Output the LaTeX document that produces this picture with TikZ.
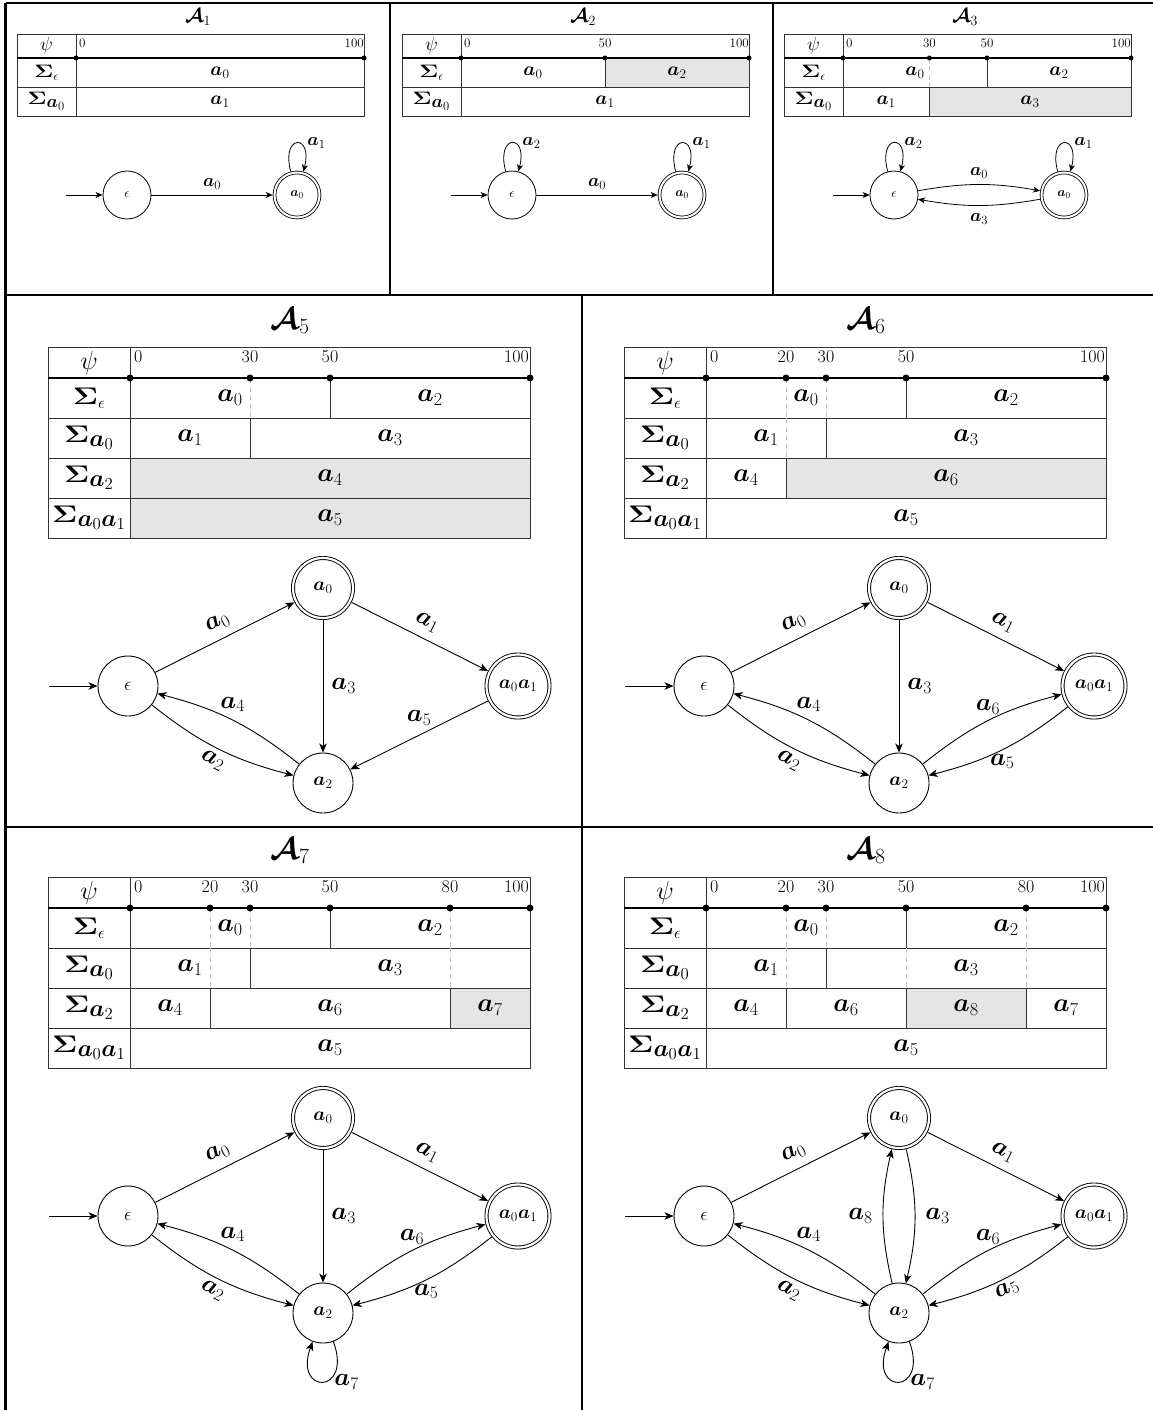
\RequirePackage{fix-cm}
\documentclass[tikz,border=0pt]{standalone}
\usepackage{amsmath,bm}
\usetikzlibrary{arrows.meta}
\newcommand\wSig{\scalebox{1.3}[1]{$\bm\Sigma$}}
\tikzset{
 frm/.style={line width=2.8pt},
 tln/.style={draw=black!80, line width=0.9pt},
 axl/.style={draw=black, line width=1.1pt},
 dsh/.style={draw=black!22, line width=0.9pt, dash pattern=on 5pt off 3.5pt},
 shd/.style={fill=black!10},
 tdot/.style={circle, fill=black, inner sep=0pt, minimum size=5pt},
 mdot/.style={circle, fill=black, inner sep=0pt, minimum size=7pt},
 ttitle/.style={font=\fontsize{20}{24}\selectfont},
 mtitle/.style={font=\fontsize{31}{36}\selectfont},
 ttxt/.style={font=\fontsize{19}{22}\selectfont, inner sep=1pt},
 mtxt/.style={font=\fontsize{26}{30}\selectfont, inner sep=1pt},
 tsig/.style={font=\fontsize{18}{21}\selectfont, inner sep=0pt},
 msig/.style={font=\fontsize{24}{28}\selectfont, inner sep=0pt},
 tpsi/.style={font=\fontsize{19}{22}\selectfont, inner sep=0pt},
 mpsi/.style={font=\fontsize{26}{30}\selectfont, inner sep=0pt},
 ttick/.style={font=\fontsize{13}{15}\selectfont, inner sep=0pt},
 mtick/.style={font=\fontsize{18}{21}\selectfont, inner sep=0pt},
 tst/.style={circle, draw, line width=0.8pt, inner sep=0pt, minimum size=48pt, font=\fontsize{13}{15}\selectfont},
 tacc/.style={tst, minimum size=45pt, double, double distance=2pt, outer sep=1.8pt},
 mst/.style={circle, draw, line width=0.9pt, inner sep=0pt, minimum size=60pt, font=\fontsize{19}{22}\selectfont},
 macc/.style={mst, double, double distance=2.2pt, outer sep=2pt},
 tedge/.style={draw, line width=0.8pt, -{Stealth[length=7pt,width=6pt,inset=2pt]}},
 medge/.style={draw, line width=0.9pt, -{Stealth[length=9pt,width=7.5pt,inset=2.5pt]}},
 tlab/.style={font=\fontsize{18}{21}\selectfont, inner sep=2pt},
 elab/.style={font=\fontsize{25}{29}\selectfont, inner sep=2pt},
}
% ---------- top-row helpers ----------
\newcommand\topframe[1]{%
 \draw[tln] (17,-34) rectangle (364,-116);
 \draw[tln] (76,-34) -- (76,-116);
 \draw[tln] (17,-87) -- (364,-87);
 \draw[axl] (17,-58) -- (364,-58);
 \node[tpsi] (#1psi) at (46.5,-46) {$\psi$};
 \node[tsig] (#1se) at (46.5,-72.5) {$\wSig_\epsilon$};
 \node[tsig] (#1sa) at (46.5,-101.5) {$\wSig_{\textstyle\bm a_0}$};
 \node[tdot] (#1d0) at (76,-58) {};
 \node[tdot] (#1d9) at (364,-58) {};
 \node[ttick, anchor=base west] (#1k0) at (79,-48) {0};
 \node[ttick, anchor=base east] (#1k9) at (364,-48) {100};
}
\newcommand\ttk[3]{\node[tdot] (#1d) at (#2,-58) {}; \node[ttick, anchor=base] (#1k) at (#2,-48) {#3};}
% ---------- middle helpers ----------
\newcommand\midframe[1]{%
 \draw[tln] (48,-347) rectangle (530,-538);
 \draw[tln] (130,-347) -- (130,-538);
 \draw[tln] (48,-418) -- (530,-418);
 \draw[tln] (48,-458) -- (530,-458);
 \draw[tln] (48,-498) -- (530,-498);
 \draw[axl] (48,-378) -- (530,-378);
 \node[mpsi] (#1psi) at (89,-362.5) {$\psi$};
 \node[msig] (#1s1) at (89,-398) {$\wSig_\epsilon$};
 \node[msig] (#1s2) at (89,-438) {$\wSig_{\textstyle\bm a_0}$};
 \node[msig] (#1s3) at (89,-478) {$\wSig_{\textstyle\bm a_2}$};
 \node[msig] (#1s4) at (89,-518) {$\wSig_{\textstyle\bm a_0\bm a_1}$};
 \node[mdot] (#1d0) at (130,-378) {};
 \node[mdot] (#1d9) at (530,-378) {};
 \node[mtick, anchor=base west] (#1k0) at (134,-362) {0};
 \node[mtick, anchor=base east] (#1k9) at (529,-362) {100};
}
\newcommand\mtk[3]{\node[mdot] (#1d) at (#2,-378) {}; \node[mtick, anchor=base] (#1k) at (#2,-362) {#3};}
\newcommand\midbase[1]{%
 \node[mst] (#1e) at (128,-686) {$\epsilon$};
 \node[macc] (#1a) at (323,-588) {$\bm a_0$};
 \node[macc, minimum size=63pt] (#1b) at (518,-686) {$\bm a_0\bm a_1$};
 \node[mst] (#1c) at (323,-783) {$\bm a_2$};
 \coordinate (#1i) at (49,-686);
 \draw[medge] (#1i) -- (#1e);
 \draw[medge] (#1e) -- node[elab, sloped, above=6pt] (#1l0) {$\bm a_0$} (#1a);
 \draw[medge] (#1a) -- node[elab, sloped, above=6pt] (#1l1) {$\bm a_1$} (#1b);
 \draw[medge] (#1e) to[bend right=12] node[elab, sloped, below=3pt] (#1l2) {$\bm a_2$} (#1c);
 \draw[medge] (#1c) to[bend right=12] node[elab, above=6pt] (#1l4) {$\bm a_4$} (#1e);
}
\begin{document}
\begin{tikzpicture}[x=1pt,y=1pt]
\useasboundingbox (0,0) rectangle (1153,-1410);
\clip (0,0) rectangle (1153,-1410);
% ================= A1 =================
\topframe{p1}
\node[ttxt] (p1v1) at (220,-72.5) {$\bm a_0$};
\node[ttxt] (p1v2) at (220,-101.5) {$\bm a_1$};
\node[ttitle] (p1t) at (198,-17) {$\bm{\mathcal A}_1$};
\node[tst] (p1e) at (127,-195) {$\epsilon$};
\node[tacc] (p1a) at (297,-195) {$\bm a_0$};
\coordinate (p1i) at (66,-195);
\draw[tedge] (p1i) -- (p1e);
\draw[tedge] (p1e) -- node[tlab, above=3pt] (p1l0) {$\bm a_0$} (p1a);
\draw[tedge] (p1a) to[loop above] node[tlab, right=8pt] (p1l1) {$\bm a_1$} (p1a);
% ================= A2 =================
\begin{scope}[shift={(385,0)}]
\fill[shd] (220,-58) rectangle (364,-87);
\topframe{p2}
\draw[tln] (220,-58) -- (220,-87);
\ttk{p2m}{220}{50}
\node[ttxt] (p2v1) at (148,-72.5) {$\bm a_0$};
\node[ttxt] (p2v2) at (292,-72.5) {$\bm a_2$};
\node[ttxt] (p2v3) at (220,-101.5) {$\bm a_1$};
\node[ttitle] (p2t) at (198,-17) {$\bm{\mathcal A}_2$};
\node[tst] (p2e) at (127,-195) {$\epsilon$};
\node[tacc] (p2a) at (297,-195) {$\bm a_0$};
\coordinate (p2i) at (66,-195);
\draw[tedge] (p2i) -- (p2e);
\draw[tedge] (p2e) -- node[tlab, above=3pt] (p2l0) {$\bm a_0$} (p2a);
\draw[tedge] (p2e) to[loop above] node[tlab, right=8pt] (p2l2) {$\bm a_2$} (p2e);
\draw[tedge] (p2a) to[loop above] node[tlab, right=8pt] (p2l1) {$\bm a_1$} (p2a);
\end{scope}
% ================= A3 =================
\begin{scope}[shift={(767,0)}]
\fill[shd] (162.4,-87) rectangle (364,-116);
\topframe{p3}
\draw[dsh] (162.4,-58) -- (162.4,-87);
\draw[tln] (220,-58) -- (220,-87);
\draw[tln] (162.4,-87) -- (162.4,-116);
\ttk{p3m}{162.4}{30}
\ttk{p3n}{220}{50}
\node[ttxt] (p3v1) at (148,-72.5) {$\bm a_0$};
\node[ttxt] (p3v2) at (292,-72.5) {$\bm a_2$};
\node[ttxt] (p3v3) at (119.2,-101.5) {$\bm a_1$};
\node[ttxt] (p3v4) at (263,-101.5) {$\bm a_3$};
\node[ttitle] (p3t) at (198,-17) {$\bm{\mathcal A}_3$};
\node[tst] (p3e) at (127,-195) {$\epsilon$};
\node[tacc] (p3a) at (297,-195) {$\bm a_0$};
\coordinate (p3i) at (66,-195);
\draw[tedge] (p3i) -- (p3e);
\draw[tedge] (p3e) to[bend left=10] node[tlab, above=4pt] (p3l0) {$\bm a_0$} (p3a);
\draw[tedge] (p3a) to[bend left=10] node[tlab, below=6pt] (p3l3) {$\bm a_3$} (p3e);
\draw[tedge] (p3e) to[loop above] node[tlab, right=8pt] (p3l2) {$\bm a_2$} (p3e);
\draw[tedge] (p3a) to[loop above] node[tlab, right=8pt] (p3l1) {$\bm a_1$} (p3a);
\end{scope}
% ================= A5 =================
\fill[shd] (130,-458) rectangle (530,-538);
\midframe{q5}
\draw[dsh] (250,-378) -- (250,-418);
\draw[tln] (330,-378) -- (330,-418);
\draw[tln] (250,-418) -- (250,-458);
\mtk{q5m}{250}{30}
\mtk{q5n}{330}{50}
\node[mtxt] (q5v1) at (230,-398) {$\bm a_0$};
\node[mtxt] (q5v2) at (430,-398) {$\bm a_2$};
\node[mtxt] (q5v3) at (190,-438) {$\bm a_1$};
\node[mtxt] (q5v4) at (390,-438) {$\bm a_3$};
\node[mtxt] (q5v5) at (330,-478) {$\bm a_4$};
\node[mtxt] (q5v6) at (330,-518) {$\bm a_5$};
\node[mtitle] (q5t) at (290,-321) {$\bm{\mathcal A}_5$};
\midbase{q5}
\draw[medge] (q5a) -- node[elab, right=6pt] (q5l3) {$\bm a_3$} (q5c);
\draw[medge] (q5b) -- node[elab, above=7pt] (q5l5) {$\bm a_5$} (q5c);
% ================= A6 =================
\begin{scope}[shift={(576,0)}]
\fill[shd] (210,-458) rectangle (530,-498);
\midframe{q6}
\draw[dsh] (210,-378) -- (210,-418);
\draw[dsh] (250,-378) -- (250,-418);
\draw[dsh] (210,-418) -- (210,-458);
\draw[tln] (330,-378) -- (330,-418);
\draw[tln] (250,-418) -- (250,-458);
\draw[tln] (210,-458) -- (210,-498);
\mtk{q6m}{210}{20}
\mtk{q6n}{250}{30}
\mtk{q6o}{330}{50}
\node[mtxt] (q6v1) at (230,-398) {$\bm a_0$};
\node[mtxt] (q6v2) at (430,-398) {$\bm a_2$};
\node[mtxt] (q6v3) at (190,-438) {$\bm a_1$};
\node[mtxt] (q6v4) at (390,-438) {$\bm a_3$};
\node[mtxt] (q6v5) at (170,-478) {$\bm a_4$};
\node[mtxt] (q6v6) at (370,-478) {$\bm a_6$};
\node[mtxt] (q6v7) at (330,-518) {$\bm a_5$};
\node[mtitle] (q6t) at (290,-321) {$\bm{\mathcal A}_6$};
\midbase{q6}
\draw[medge] (q6a) -- node[elab, right=6pt] (q6l3) {$\bm a_3$} (q6c);
\draw[medge] (q6c) to[bend left=12] node[elab, above=4pt] (q6l6) {$\bm a_6$} (q6b);
\draw[medge] (q6b) to[bend left=12] node[elab, below=2pt] (q6l5) {$\bm a_5$} (q6c);
\end{scope}
% ================= A7 =================
\begin{scope}[shift={(0,-530)}]
\fill[shd] (450,-458) rectangle (530,-498);
\midframe{q7}
\draw[dsh] (210,-378) -- (210,-418);
\draw[dsh] (250,-378) -- (250,-418);
\draw[dsh] (450,-378) -- (450,-418);
\draw[dsh] (210,-418) -- (210,-458);
\draw[dsh] (450,-418) -- (450,-458);
\draw[tln] (330,-378) -- (330,-418);
\draw[tln] (250,-418) -- (250,-458);
\draw[tln] (210,-458) -- (210,-498);
\draw[tln] (450,-458) -- (450,-498);
\mtk{q7m}{210}{20}
\mtk{q7n}{250}{30}
\mtk{q7o}{330}{50}
\mtk{q7p}{450}{80}
\node[mtxt] (q7v1) at (230,-398) {$\bm a_0$};
\node[mtxt] (q7v2) at (430,-398) {$\bm a_2$};
\node[mtxt] (q7v3) at (190,-438) {$\bm a_1$};
\node[mtxt] (q7v4) at (390,-438) {$\bm a_3$};
\node[mtxt] (q7v5) at (170,-478) {$\bm a_4$};
\node[mtxt] (q7v6) at (330,-478) {$\bm a_6$};
\node[mtxt] (q7v7) at (490,-478) {$\bm a_7$};
\node[mtxt] (q7v8) at (330,-518) {$\bm a_5$};
\node[mtitle] (q7t) at (290,-321) {$\bm{\mathcal A}_7$};
\midbase{q7}
\draw[medge] (q7a) -- node[elab, right=6pt] (q7l3) {$\bm a_3$} (q7c);
\draw[medge] (q7c) to[bend left=12] node[elab, above=4pt] (q7l6) {$\bm a_6$} (q7b);
\draw[medge] (q7b) to[bend left=12] node[elab, below=2pt] (q7l5) {$\bm a_5$} (q7c);
\draw[medge] (q7c) to[out=-70, in=-110, looseness=7] node[elab, right=9pt] (q7l7) {$\bm a_7$} (q7c);
\end{scope}
% ================= A8 =================
\begin{scope}[shift={(576,-530)}]
\fill[shd] (330,-458) rectangle (450,-498);
\midframe{q8}
\draw[dsh] (210,-378) -- (210,-418);
\draw[dsh] (250,-378) -- (250,-418);
\draw[dsh] (450,-378) -- (450,-418);
\draw[dsh] (210,-418) -- (210,-458);
\draw[dsh] (330,-418) -- (330,-458);
\draw[dsh] (450,-418) -- (450,-458);
\draw[tln] (330,-378) -- (330,-418);
\draw[tln] (250,-418) -- (250,-458);
\draw[tln] (210,-458) -- (210,-498);
\draw[tln] (330,-458) -- (330,-498);
\draw[tln] (450,-458) -- (450,-498);
\mtk{q8m}{210}{20}
\mtk{q8n}{250}{30}
\mtk{q8o}{330}{50}
\mtk{q8p}{450}{80}
\node[mtxt] (q8v1) at (230,-398) {$\bm a_0$};
\node[mtxt] (q8v2) at (430,-398) {$\bm a_2$};
\node[mtxt] (q8v3) at (190,-438) {$\bm a_1$};
\node[mtxt] (q8v4) at (390,-438) {$\bm a_3$};
\node[mtxt] (q8v5) at (170,-478) {$\bm a_4$};
\node[mtxt] (q8v6) at (270,-478) {$\bm a_6$};
\node[mtxt] (q8v7) at (390,-478) {$\bm a_8$};
\node[mtxt] (q8v8) at (490,-478) {$\bm a_7$};
\node[mtxt] (q8v9) at (330,-518) {$\bm a_5$};
\node[mtitle] (q8t) at (290,-321) {$\bm{\mathcal A}_8$};
\midbase{q8}
\draw[medge] (q8a) to[bend left=13] node[elab, right=8pt] (q8l3) {$\bm a_3$} (q8c);
\draw[medge] (q8c) to[bend left=13] node[elab, left=8pt] (q8l8) {$\bm a_8$} (q8a);
\draw[medge] (q8c) to[bend left=12] node[elab, above=4pt] (q8l6) {$\bm a_6$} (q8b);
\draw[medge] (q8b) to[bend left=12] node[elab, sloped, below=1pt] (q8l5) {$\bm a_5$} (q8c);
\draw[medge] (q8c) to[out=-70, in=-110, looseness=7] node[elab, right=9pt] (q8l7) {$\bm a_7$} (q8c);
\end{scope}
% ================= frame =================
\draw[frm] (5.5,-3) -- (1160,-3);
\draw[frm] (5.5,-3) -- (5.5,-1420);
\draw[frm] (390,-3) -- (390,-295);
\draw[frm] (773,-3) -- (773,-295);
\draw[frm] (5.5,-295) -- (1160,-295);
\draw[frm] (582,-295) -- (582,-1420);
\draw[frm] (5.5,-827) -- (1160,-827);
\end{tikzpicture}
\end{document}
